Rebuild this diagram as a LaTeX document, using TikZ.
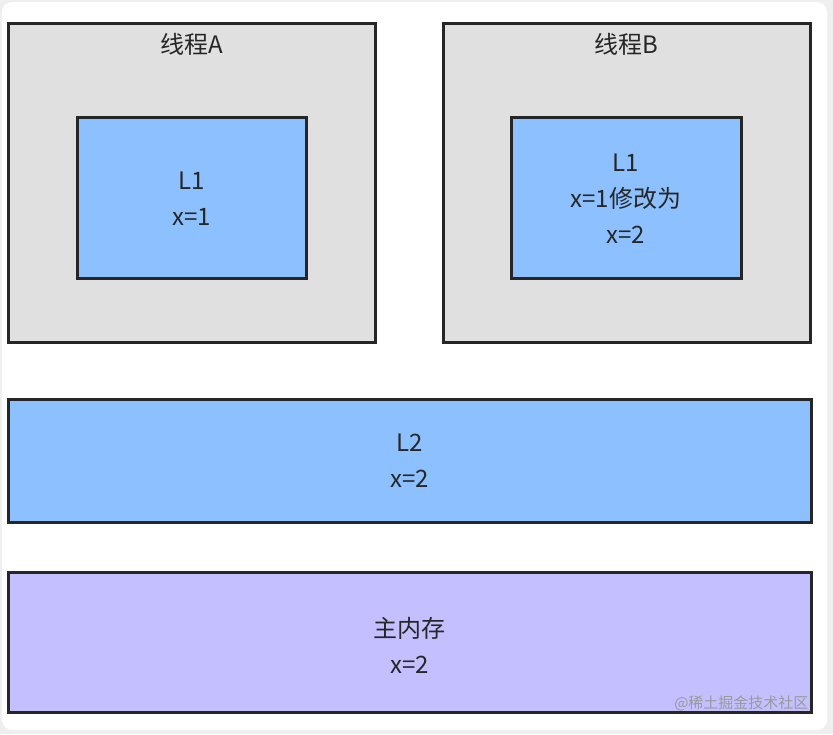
\documentclass[tikz,border=0pt]{standalone}
\usepackage{fontspec}
\setmainfont{Noto Sans CJK SC}
\definecolor{thr}{HTML}{E0E0E0}
\definecolor{cache}{HTML}{8CC0FF}
\definecolor{mem}{HTML}{C4C0FF}
\definecolor{bg}{HTML}{EFEFEF}
\begin{document}
\begin{tikzpicture}[x=1pt,y=-1pt,
  box/.style={draw=black!85,line width=3pt},
  lbl/.style={font=\fontsize{24}{36}\selectfont,align=center,text=black!85}]
\useasboundingbox (0,0) rectangle (833,734);
\fill[bg] (0,0) rectangle (833,734);
\fill[white,rounded corners=10pt] (2,2) rectangle (827,730);
\draw[box,fill=thr] (8,23) rectangle (375,342);
\node[lbl] (ta) at (191.5,44) {线程A};
\draw[box,fill=cache] (77,117) rectangle (306,278);
\node[lbl] (la) at (191.5,199) {L1\\x=1};
\draw[box,fill=cache] (511,117) rectangle (741,278);
\draw[box,fill=thr] (443,23) rectangle (810,342);
\draw[box,fill=cache] (511,117) rectangle (741,278);
\node[lbl] (tb) at (626.5,44) {线程B};
\node[lbl] (lb) at (626,199) {L1\\x=1修改为\\x=2};
\draw[box,fill=cache] (8,399) rectangle (811,522);
\node[lbl] (l2) at (409.5,461) {L2\\x=2};
\draw[box,fill=mem] (8,572) rectangle (811,712);
\node[lbl] (mm) at (409.5,645) {主内存\\x=2};
\node[font=\fontsize{15}{17}\selectfont,text=black!40,anchor=east] (wm) at (812,703) {@稀土掘金技术社区};
\end{tikzpicture}
\end{document}
